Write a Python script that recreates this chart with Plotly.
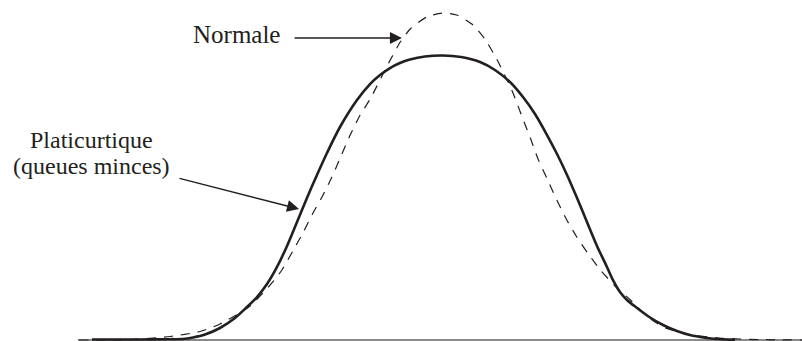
import plotly.graph_objects as go

# Normal distribution (dashed) — x in standard deviations, y density
normal_x = [-4.00, -3.44, -3.00, -2.67, -2.45, -2.12, -1.88, -1.77, -1.65, -1.54, -1.44, -1.33,
            -1.22, -1.13, -1.02, -0.91, -0.80, -0.62, -0.47, -0.36, -0.18, -0.01, 0.15, 0.33,
            0.46, 0.59, 0.76, 0.87, 0.96, 1.04, 1.15, 1.25, 1.36, 1.47, 1.59, 1.73, 1.89,
            2.06, 2.24, 2.42, 2.71, 3.04, 3.48, 3.95]
normal_y = [0.0000, 0.0005, 0.0043, 0.0104, 0.0196, 0.0416, 0.0698, 0.0857, 0.1089, 0.1310,
            0.1530, 0.1750, 0.1995, 0.2228, 0.2509, 0.2754, 0.2950, 0.3341, 0.3647, 0.3807,
            0.3953, 0.4002, 0.3978, 0.3856, 0.3684, 0.3439, 0.3048, 0.2729, 0.2472, 0.2228,
            0.1958, 0.1714, 0.1469, 0.1261, 0.1065, 0.0857, 0.0661, 0.0490, 0.0294, 0.0159,
            0.0067, 0.0024, 0.0005, 0.0000]

# Platykurtic distribution (solid)
platy_x = [-3.857, -3.330, -3.000, -2.857, -2.747, -2.615, -2.451, -2.286, -2.154, -2.044,
           -1.934, -1.824, -1.714, -1.604, -1.495, -1.385, -1.275, -1.132, -0.945, -0.802,
           -0.692, -0.582, -0.473, -0.363, -0.198, 0.000, 0.198, 0.407, 0.571, 0.736, 0.879,
           1.011, 1.143, 1.253, 1.363, 1.473, 1.582, 1.692, 1.802, 1.868, 1.945,
           2.022, 2.132, 2.275, 2.418, 2.571, 2.714, 2.879, 3.011, 3.209]
platy_y = [0.0006, 0.0006, 0.0010, 0.0012, 0.0031, 0.0067, 0.0147, 0.0269, 0.0404, 0.0526,
           0.0685, 0.0894, 0.1151, 0.1444, 0.1738, 0.2020, 0.2289, 0.2607, 0.2938, 0.3133,
           0.3244, 0.3329, 0.3390, 0.3433, 0.3470, 0.3482, 0.3464, 0.3403, 0.3305, 0.3158, 0.2974,
           0.2766, 0.2509, 0.2277, 0.2020, 0.1738, 0.1444, 0.1151, 0.0894, 0.0734, 0.0588,
           0.0490, 0.0392, 0.0275, 0.0184, 0.0110, 0.0061, 0.0028, 0.0012, 0.0002]

label_normal = "Normale"
label_platy_1 = "Platicurtique"
label_platy_2 = "(queues minces)"

INK = "#231f20"
FONT = "Liberation Serif, Times New Roman, DejaVu Serif, serif"

fig = go.Figure()
fig.add_trace(go.Scatter(x=normal_x, y=normal_y, mode="lines",
                         line=dict(color=INK, width=1.2, dash="9px,8px", shape="spline", smoothing=0.6),
                         hoverinfo="skip", showlegend=False))
fig.add_trace(go.Scatter(x=platy_x, y=platy_y, mode="lines",
                         line=dict(color=INK, width=2.6, shape="spline", smoothing=0.8),
                         hoverinfo="skip", showlegend=False))

annos = [
    dict(x=-2.264, y=0.3740, text=label_normal, showarrow=False, xanchor="center", yanchor="middle",
         font=dict(family=FONT, size=25, color=INK)),
    dict(x=-3.868, y=0.2448, text=label_platy_1, showarrow=False, xanchor="center", yanchor="middle",
         font=dict(family=FONT, size=24, color=INK)),
    dict(x=-3.868, y=0.2130, text=label_platy_2, showarrow=False, xanchor="center", yanchor="middle",
         font=dict(family=FONT, size=24, color=INK)),
    dict(x=-0.451, y=0.3696, ax=-1.648, ay=0.3696, axref="x", ayref="y", xref="x", yref="y",
         text="", showarrow=True, arrowhead=2, arrowsize=1.6, arrowwidth=1.5, arrowcolor=INK,
         standoff=0, startstandoff=0),
    dict(x=-1.582, y=0.1603, ax=-2.912, ay=0.1983, axref="x", ayref="y", xref="x", yref="y",
         text="", showarrow=True, arrowhead=2, arrowsize=1.6, arrowwidth=1.5, arrowcolor=INK,
         standoff=0, startstandoff=0),
]

fig.update_layout(
    width=802, height=341,
    margin=dict(l=78, r=0, t=0, b=0),
    paper_bgcolor="white", plot_bgcolor="white",
    annotations=annos,
    xaxis=dict(range=[-4.011, 3.945], visible=True, showgrid=False, zeroline=False,
               showticklabels=False, ticks="", showline=False),
    yaxis=dict(range=[-1/817, 340/817], showgrid=False, zeroline=True, zerolinecolor="#8a8a8a",
               zerolinewidth=1.5, showticklabels=False, ticks="", showline=False),
)

fig.write_html("out.html", config={"displayModeBar": False},
               post_script="document.body.style.margin='0';document.body.style.padding='0';"
                           "document.documentElement.style.overflow='hidden';")
